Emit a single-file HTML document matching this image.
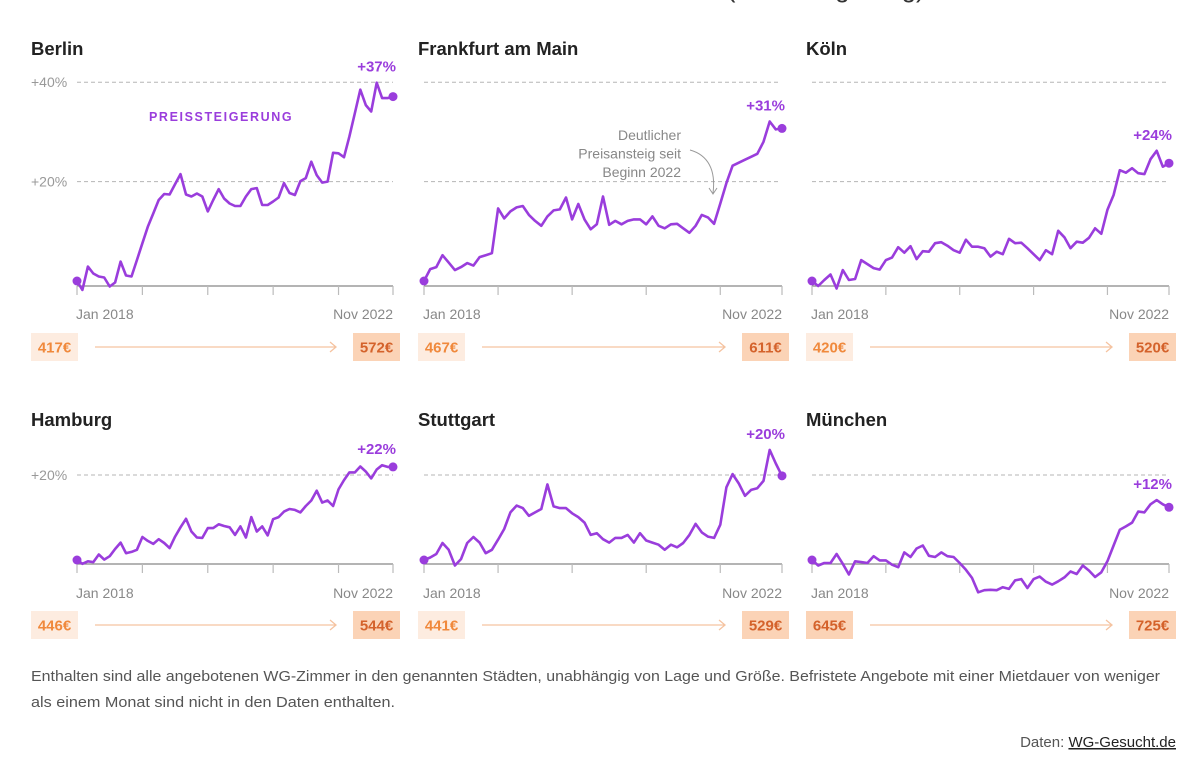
<!DOCTYPE html>
<html lang="de">
<head>
<meta charset="utf-8">
<style>
  html,body{margin:0;padding:0;background:#fff;}
  body{width:1200px;height:772px;overflow:hidden;font-family:"Liberation Sans",sans-serif;}
  svg{display:block;}
</style>
</head>
<body>
<svg id="chart" width="1200" height="772" viewBox="0 0 1200 772" xmlns="http://www.w3.org/2000/svg" font-family="Liberation Sans, sans-serif">
  <text x="130" y="-3" font-size="26" fill="#333">Durchschnittliche Preise für WG-Zimmer in Städten (Preissteigerung)</text>
  <g id="panels"></g>
  <text x="31" y="681" font-size="15" fill="#555" textLength="1129" lengthAdjust="spacingAndGlyphs">Enthalten sind alle angebotenen WG-Zimmer in den genannten Städten, unabhängig von Lage und Größe. Befristete Angebote mit einer Mietdauer von weniger</text>
  <text x="31" y="707" font-size="15" fill="#555" textLength="364" lengthAdjust="spacingAndGlyphs">als einem Monat sind nicht in den Daten enthalten.</text>
  <text x="1176" y="747" font-size="15" fill="#555" text-anchor="end">Daten: <tspan fill="#222" text-decoration="underline">WG-Gesucht.de</tspan></text>
</svg>
<script>
const cities = ["Berlin","Frankfurt am Main","Köln","Hamburg","Stuttgart","München"];
const startPrices = [417,467,420,446,441,645];
const endPrices = [572,611,520,544,529,725];
const startLabel = "Jan 2018";
const endLabel = "Nov 2022";
const berlin = [0,-1.8,2.9,1.5,0.9,0.7,-1.1,-0.3,3.9,1.1,0.9,4.2,7.6,10.9,13.6,16.3,17.5,17.4,19.5,21.5,17.4,17,17.6,17,14,16.3,18.5,16.6,15.6,15.1,15.1,17,18.5,18.7,15.3,15.3,16,16.8,19.7,17.7,17.3,20.1,20.7,24,21.3,19.8,20,25.8,25.7,24.9,29.1,33.8,38.5,35.4,34.1,39.9,36.8,36.8,37.1];
const frankfurt = [0,2.4,2.8,5.2,3.7,2.2,2.8,3.6,3.1,4.8,5.2,5.6,14.6,12.6,14,14.8,15.1,13.3,12.1,11.1,13,14.2,14.4,16.8,12.4,15.5,12.4,10.4,11.4,17,11.3,12.1,11.4,12.1,12.4,12.4,11.4,13,11.1,10.6,11.4,11.5,10.6,9.7,11.1,13.3,12.8,11.5,15.6,19.7,23.2,23.8,24.4,25,25.6,28,32.1,30.5,30.7];
const koeln = [0,-1,0.2,1.3,-1.5,2.2,0.2,0.4,4.2,3.4,2.6,2.3,4.2,4.7,6.8,5.7,7,4.4,6,5.9,7.6,7.8,7.1,6.2,5.7,8.3,6.9,6.9,6.6,4.9,5.9,5.4,8.5,7.6,7.7,6.6,5.4,4.2,6.2,5.4,10.1,8.8,6.6,7.9,7.7,8.7,10.6,9.5,14.3,17.3,22.3,21.8,22.7,21.7,21.5,24.5,26.2,23,23.7];
const hamburg = [0,-0.9,-0.3,-0.5,1.3,0.1,0.9,2.6,4.1,1.6,1.9,2.4,5.4,4.5,3.8,4.9,4,2.8,5.5,7.7,9.7,6.7,5.3,5.2,7.5,7.5,8.4,8,7.7,5.9,7.9,5.3,10.1,6.7,7.9,5.8,9.6,10.1,11.4,12,11.8,11.2,12.7,14,16.3,13.5,14,12.7,16.6,18.8,20.6,20.6,22,20.8,19.2,21.3,22.3,21.9,21.9];
const stuttgart = [0,0.6,1.4,4,2.4,-1.3,0.2,4,5.4,4.1,1.6,2.4,4.8,7.3,11.2,12.8,12.2,10.4,11.2,12,17.8,12.6,12.2,12.2,11,10.1,8.8,5.9,6.3,4.9,4.1,5.2,5.2,5.9,4.1,6.3,4.6,4.1,3.6,2.4,3.6,3,4,5.9,8.5,6.5,5.5,5.2,8.3,17.1,20.2,18,15.1,16.5,16.9,18.6,25.9,22.7,19.8];
const muenchen = [0,-1.3,-0.7,-0.7,1.4,-0.9,-3.4,-0.3,-0.5,-0.7,0.9,-0.1,-0.1,-1.1,-1.7,1.8,0.7,2.7,3.4,1,0.7,1.8,0.9,0.7,-0.7,-2.3,-4.2,-7.6,-7.1,-7,-7.1,-6.4,-6.8,-4.8,-4.5,-6.6,-4.5,-3.9,-5.1,-5.8,-5,-4.1,-2.7,-3.3,-1.3,-2.5,-4,-2.9,-0.3,3.4,7.1,7.9,8.8,11.4,11.2,13.1,14.1,13.1,12.4];
const series = [berlin,frankfurt,koeln,hamburg,stuttgart,muenchen];
const topGrid = [20,40];
const bottomGrid = [20];
const yearTicks = [0,12,24,36,48,58];

const NS = "http://www.w3.org/2000/svg";
const root = document.getElementById("panels");
function mk(tag, attrs, parent){
  const e = document.createElementNS(NS, tag);
  for (const k in attrs) e.setAttribute(k, attrs[k]);
  (parent||root).appendChild(e);
  return e;
}
const cols = [{x0:77,x1:393,tx:31,gx1:393},{x0:424,x1:782,tx:418,gx1:779},{x0:812,x1:1169,tx:806,gx1:1166}];
const rows = [{zero:281,ppu:4.97,axis:286,titleY:55,dateY:319,priceY:333,grid:topGrid},
              {zero:560,ppu:4.25,axis:564,titleY:426,dateY:598,priceY:611,grid:bottomGrid}];
const PURPLE = "#9a3ddc";
const slug = s => s.toLowerCase().replace(/ö/g,"oe").replace(/ü/g,"ue").replace(/\s+/g,"-");

series.forEach((data, idx) => {
  const c = cols[idx%3], r = rows[Math.floor(idx/3)];
  const n = data.length;
  const xs = i => c.x0 + (c.x1 - c.x0) * i / (n - 1);
  const ys = v => r.zero - v * r.ppu;
  const s = slug(cities[idx]);
  const g = mk("g", {});
  
  

  const t = mk("text", {x:c.tx, y:r.titleY, "font-size":18.5, "font-weight":"bold", fill:"#222"}, g);
  
  
  t.textContent = cities[idx];

  r.grid.forEach(gv => {
    const gl = mk("line", {x1:c.x0, x2:c.gx1, y1:ys(gv), y2:ys(gv), stroke:"#b5b5b5", "stroke-width":1, "stroke-dasharray":"4 3"}, g);
    
    
    if (idx%3===0) {
      const gt = mk("text", {x:31, y:ys(gv)+5, "font-size":14, fill:"#999"}, g);
      
      
      gt.textContent = "+" + gv + "%";
    }
  });

  const ax = mk("line", {x1:c.x0, x2:c.x1, y1:r.axis, y2:r.axis, stroke:"#888", "stroke-width":1.2}, g);
  
  
  yearTicks.forEach(ti => {
    const tk = mk("line", {x1:xs(ti), x2:xs(ti), y1:r.axis, y2:r.axis+9, stroke:"#bbb", "stroke-width":1.2}, g);
    
    
  });
  const d1 = mk("text", {x:c.x0 - 1, y:r.dateY, "font-size":14, fill:"#888"}, g);
  
  
  d1.textContent = startLabel;
  const d2 = mk("text", {x:c.x1, y:r.dateY, "font-size":14, fill:"#888", "text-anchor":"end"}, g);
  
  
  d2.textContent = endLabel;

  const pts = data.map((v,i) => xs(i).toFixed(1) + "," + ys(v).toFixed(1)).join(" ");
  const pl = mk("polyline", {points:pts, fill:"none", stroke:PURPLE, "stroke-width":2.6, "stroke-linejoin":"round"}, g);
  
  
  const c0 = mk("circle", {cx:xs(0), cy:ys(data[0]), r:4.5, fill:PURPLE}, g);
  
  
  const c1 = mk("circle", {cx:xs(n-1), cy:ys(data[n-1]), r:4.5, fill:PURPLE}, g);
  
  

  const mx = Math.max(...data.slice(n-4));
  const lab = mk("text", {x:c.x1 + 3, y:ys(mx) - 11, "font-size":15, "font-weight":"bold", fill:PURPLE, "text-anchor":"end"}, g);
  
  
  lab.textContent = "+" + Math.round(data[n-1]) + "%";

  const prices = [startPrices[idx], endPrices[idx]];
  const bx = [c.tx, c.x1 - 40];
  prices.forEach((p, k) => {
    const dark = p >= 520;
    const rc = mk("rect", {x:bx[k], y:r.priceY, width:47, height:28, fill: dark ? "#fbd3b6" : "#fdece0"}, g);
    
    
    const pt = mk("text", {x:bx[k]+23.5, y:r.priceY+19.5, "font-size":15, "font-weight":"bold", fill: dark ? "#d4622b" : "#f0893c", "text-anchor":"middle"}, g);
    
    
    pt.textContent = p + "€";
  });
  const ay = r.priceY + 14;
  const ar = mk("path", {d:`M${bx[0]+64},${ay} H${bx[1]-17} M${bx[1]-23},${ay-5} L${bx[1]-17},${ay} L${bx[1]-23},${ay+5}`, fill:"none", stroke:"#f5c3a0", "stroke-width":1.3}, g);
  
  
});

const pst = mk("text", {x:149, y:121, "font-size":12.5, "font-weight":"bold", fill:PURPLE, "letter-spacing":"1.6"});


pst.textContent = "PREISSTEIGERUNG";

const ann = mk("g", {});


["Deutlicher","Preisansteig seit","Beginn 2022"].forEach((l,i) => {
  const at = mk("text", {x:681, y:140 + i*18.5, "font-size":14, fill:"#888", "text-anchor":"end"}, ann);
  
  
  at.textContent = l;
});
const ap = mk("path", {d:"M690,150 C708,155 716,170 713,193 M709,188 L713,194 L717,188", fill:"none", stroke:"#999", "stroke-width":1}, ann);


</script>
</body>
</html>
